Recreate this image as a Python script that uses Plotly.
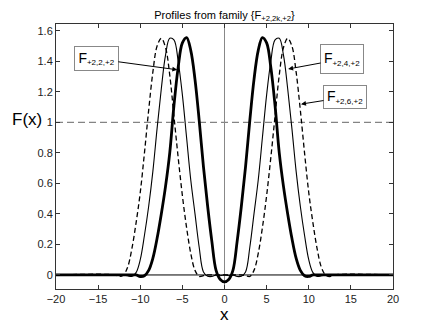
import plotly.graph_objects as go

# sample points along x (reference profiles are symmetric about x = 0)
x_pts = [-20, -13, -12.5, -12, -11.5, -11, -10.5, -10, -9.5, -9, -8.5, -8, -7.5, -7, -6.5, -6,
         -5.5, -5, -4.5, -4, -3.5, -3, -2.5, -2, -1.5, -1, -0.5, 0, 0.5, 1, 1.5, 2, 2.5, 3,
         3.5, 4, 4.5, 5, 5.5, 6, 6.5, 7, 7.5, 8, 8.5, 9, 9.5, 10, 10.5, 11, 11.5, 12, 12.5, 13, 20]

# F(+2,2,+2)  thick solid
f_k1 = [0, 0, 0, 0, 0, 0, 0, -0.01, -0.005, 0.03, 0.11, 0.24, 0.40, 0.58, 0.80, 1.11,
        1.36, 1.52, 1.555, 1.47, 1.28, 1.01, 0.71, 0.45, 0.22, 0.03, -0.03, -0.045, -0.03, 0.03, 0.22, 0.45, 0.71, 1.01,
        1.28, 1.47, 1.555, 1.52, 1.36, 1.11, 0.80, 0.58, 0.40, 0.24, 0.11, 0.03, -0.005, -0.01, 0, 0, 0, 0, 0, 0, 0]

# F(+2,4,+2)  thin solid
f_k2 = [0, 0, 0, 0, -0.005, -0.01, 0.015, 0.10, 0.26, 0.45, 0.68, 0.96, 1.22, 1.44, 1.55, 1.54,
        1.40, 1.18, 0.90, 0.62, 0.40, 0.18, 0.02, -0.008, -0.01, 0, -0.005, 0, -0.005, 0, -0.01, -0.008, 0.02, 0.18,
        0.40, 0.62, 0.90, 1.18, 1.40, 1.54, 1.55, 1.44, 1.22, 0.96, 0.68, 0.45, 0.26, 0.10, 0.015, -0.01, -0.005, 0, 0, 0, 0]

# F(+2,6,+2)  dashed
f_k3 = [0, 0, -0.01, 0, 0.05, 0.17, 0.34, 0.54, 0.80, 1.08, 1.33, 1.50, 1.55, 1.49, 1.31, 1.04,
        0.77, 0.52, 0.31, 0.14, 0.03, -0.01, -0.005, 0, 0, 0, 0, 0, 0, 0, 0, 0, -0.005, -0.01,
        0.03, 0.14, 0.31, 0.52, 0.77, 1.04, 1.31, 1.49, 1.55, 1.50, 1.33, 1.08, 0.80, 0.54, 0.34, 0.17, 0.05, 0, -0.01, 0, 0]

x_ticks = [-20, -15, -10, -5, 0, 5, 10, 15, 20]
y_ticks = [0, 0.2, 0.4, 0.6, 0.8, 1, 1.2, 1.4, 1.6]

# label subscript, arrow target (x, y), box offset in px, box size in px
labels = [
    ("+2,2,+2", -5.6, 1.344, -81, -11, 41, 21),
    ("+2,4,+2", 7.55, 1.349, 54, -10, 40, 26),
    ("+2,6,+2", 9.08, 1.119, 44, -7, 40, 20),
]

FONT = "Liberation Sans, Arial, sans-serif"

fig = go.Figure()

# reference lines
fig.add_trace(go.Scatter(x=[-20, 20], y=[1, 1], mode="lines",
                         line=dict(color="#666666", width=1, dash="7px,4px"), hoverinfo="skip"))
fig.add_trace(go.Scatter(x=[0, 0], y=[-0.092, 1.644], mode="lines",
                         line=dict(color="#888888", width=1), hoverinfo="skip"))
fig.add_trace(go.Scatter(x=[-20, 20], y=[0, 0], mode="lines",
                         line=dict(color="black", width=1), hoverinfo="skip"))

fig.add_trace(go.Scatter(x=x_pts, y=f_k3, mode="lines", line_shape="spline",
                         line=dict(color="black", width=1.3, dash="5px,3px")))
fig.add_trace(go.Scatter(x=x_pts, y=f_k2, mode="lines", line_shape="spline",
                         line=dict(color="black", width=1.1)))
fig.add_trace(go.Scatter(x=x_pts, y=f_k1, mode="lines", line_shape="spline",
                         line=dict(color="black", width=2.8)))

for sub, hx, hy, ax, ay, w, h in labels:
    fig.add_annotation(x=hx, y=hy, ax=ax, ay=ay,
                       text="F<sub><span style='font-size:8px'>" + sub + "</span></sub>",
                       showarrow=True, arrowhead=2, arrowsize=1, arrowwidth=1, arrowcolor="black",
                       font=dict(family=FONT, size=14, color="black"),
                       bgcolor="white", bordercolor="#888888", borderwidth=1, borderpad=1,
                       width=w, height=h)

fig.add_annotation(text="F(x)", xref="paper", yref="y", x=-0.086, y=1, yshift=3,
                   xanchor="center", showarrow=False, font=dict(family=FONT, size=17, color="black"))
fig.add_annotation(text="x", xref="paper", yref="paper", x=0.5, y=-0.098,
                   xanchor="center", yanchor="middle",
                   showarrow=False, font=dict(family=FONT, size=17, color="black"))

axis_style = dict(showline=True, linecolor="#333333", linewidth=1, mirror="ticks",
                  ticks="inside", ticklen=4, tickcolor="#333333", showgrid=False, zeroline=False,
                  tickfont=dict(family=FONT, size=11, color="#222222"))

fig.update_xaxes(range=[-20, 20], tickvals=x_ticks, **axis_style)
fig.update_yaxes(range=[-0.092, 1.644], tickvals=y_ticks, **axis_style)

# the page adds an 8px body margin, so the figure is 8px smaller than the window
fig.update_layout(
    width=427, height=318,
    margin=dict(l=48, r=42, t=16, b=37),
    paper_bgcolor="white", plot_bgcolor="white",
    showlegend=False,
    title=dict(text="Profiles from family {F<sub>+2,2k,+2</sub>}", x=0.5, xref="paper",
               y=1 - 7 / 318, yref="container", yanchor="middle",
               font=dict(family=FONT, size=11, color="black")),
)

fig.write_html("out.html")
